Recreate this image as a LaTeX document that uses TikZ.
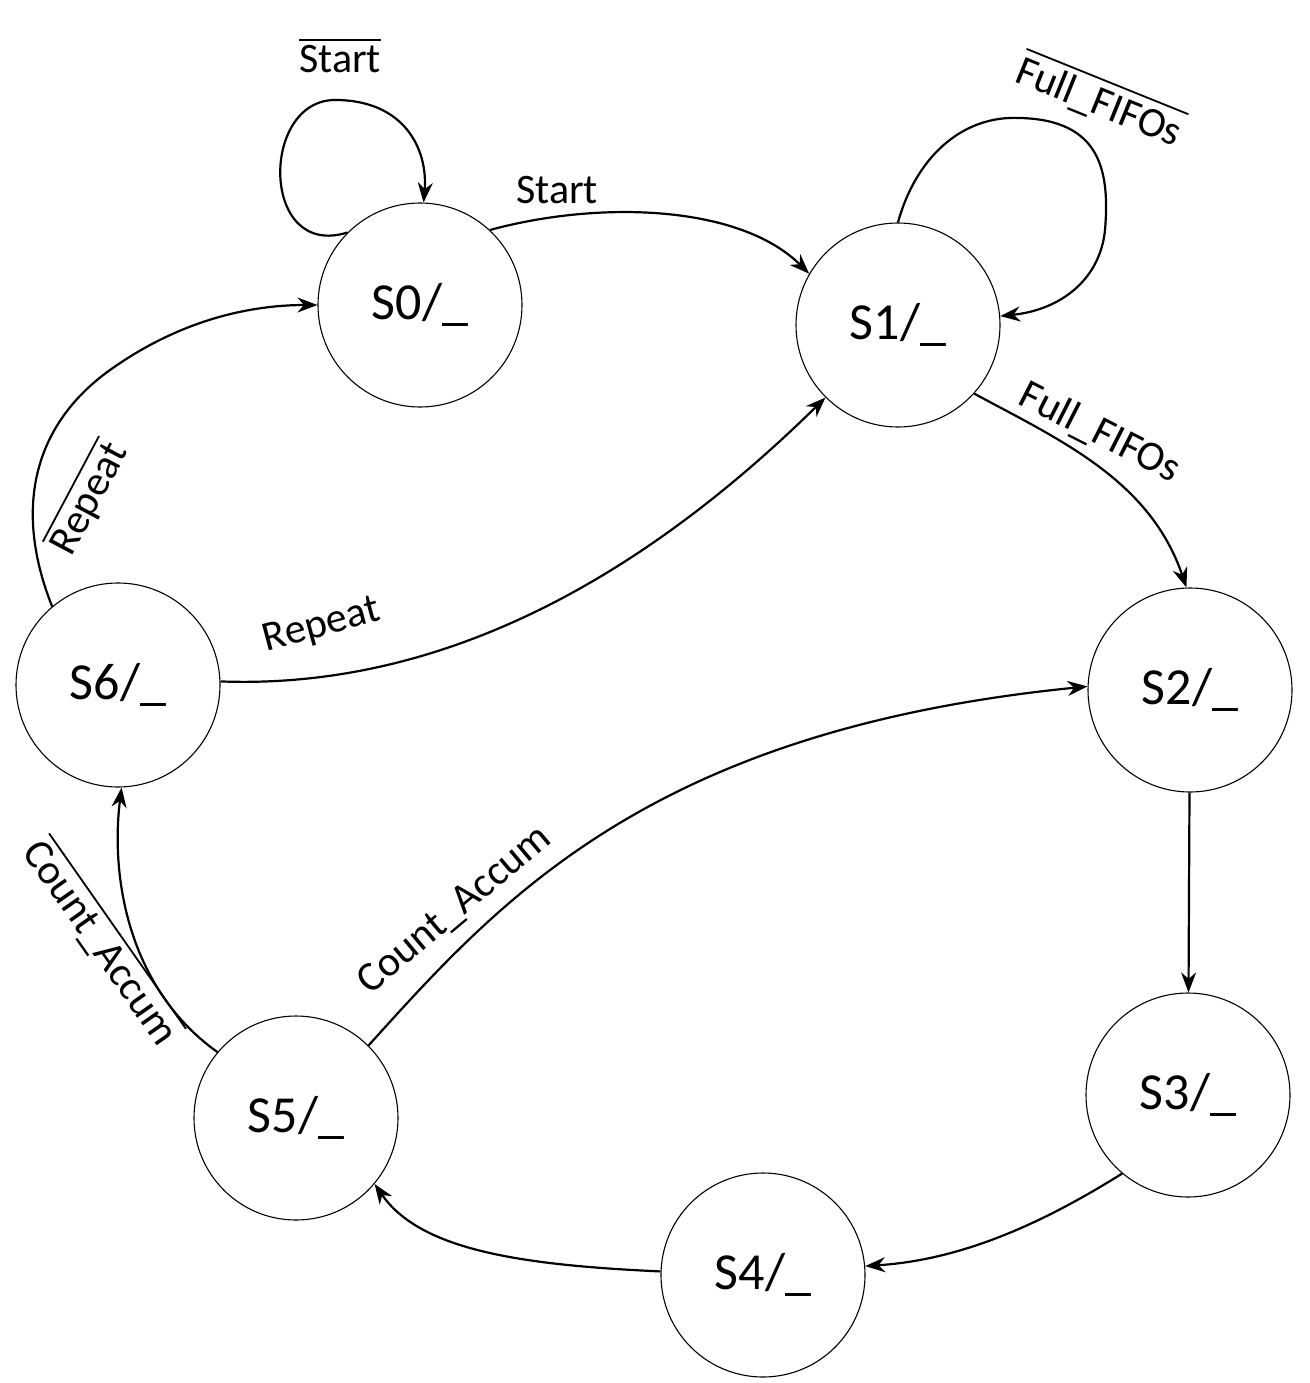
\documentclass[tikz,border=0pt]{standalone}
\usepackage{fontspec}
\setmainfont{Carlito}
\usetikzlibrary{arrows.meta}
\newcommand{\ovl}[1]{\vbox{\hrule height 1.8pt \vskip 5pt \hbox{#1}}}
\begin{document}
\begin{tikzpicture}[x=1pt,y=-1pt,
  st/.style={circle,draw,line width=1.1pt,minimum size=204pt,inner sep=0pt,font=\fontsize{52}{56}\selectfont},
  ed/.style={-{Stealth[length=20pt,width=15pt]},line width=2.2pt},
  lb/.style={font=\fontsize{42}{46}\selectfont}]
\useasboundingbox (0,0) rectangle (1309,1383);
\node[st] (s0) at (420,305) {S0/\_};
\node[st] (s1) at (898,325) {S1/\_};
\node[st] (s2) at (1190,690) {S2/\_};
\node[st] (s3) at (1188,1095) {S3/\_};
\node[st] (s4) at (763,1275) {S4/\_};
\node[st] (s5) at (296,1118) {S5/\_};
\node[st] (s6) at (118,685) {S6/\_};
\draw[ed] (s0.135) .. controls (260,260) and (260,100) .. (335,100) .. controls (405,100) and (428,150) .. (s0.88);
\node[lb] at (340,56) {\ovl{Start}};
\draw[ed] (s0.47) .. controls (600,200) and (740,205) .. (s1.150);
\node[lb] at (557,190) {Start};
\draw[ed] (s1.90) .. controls (915,160) and (960,115) .. (1020,118) .. controls (1100,120) and (1110,170) .. (1105,230) .. controls (1100,280) and (1060,310) .. (s1.5);
\node[lb,rotate=-22] at (1100,100) {\ovl{Full\_FIFOs}};
\draw[ed] (s1.-42) .. controls (1060,440) and (1150,480) .. (s2.92);
\node[lb,rotate=-27] at (1100,433) {Full\_FIFOs};
\draw[ed] (s6.130) .. controls (10,500) and (40,420) .. (110,370) .. controls (180,320) and (250,305) .. (s0.180);
\node[lb,rotate=62] at (88,498) {\ovl{Repeat}};
\draw[ed] (s6.2) .. controls (450,690) and (650,570) .. (s1.-135);
\node[lb,rotate=15] at (322,626) {Repeat};
\draw[ed] (s5.45) .. controls (500,900) and (650,730) .. (s2.178);
\node[lb,rotate=40] at (455,910) {Count\_Accum};
\draw[ed] (s5.140) .. controls (130,990) and (110,880) .. (s6.-88);
\node[lb,rotate=-55] at (102,942) {\ovl{Count\_Accum}};
\draw[ed] (s2) -- (s3);
\draw[ed] (s3.-130) .. controls (1040,1225) and (960,1260) .. (s4.5);
\draw[ed] (s4.178) .. controls (520,1265) and (420,1250) .. (s5.-40);
\end{tikzpicture}
\end{document}
